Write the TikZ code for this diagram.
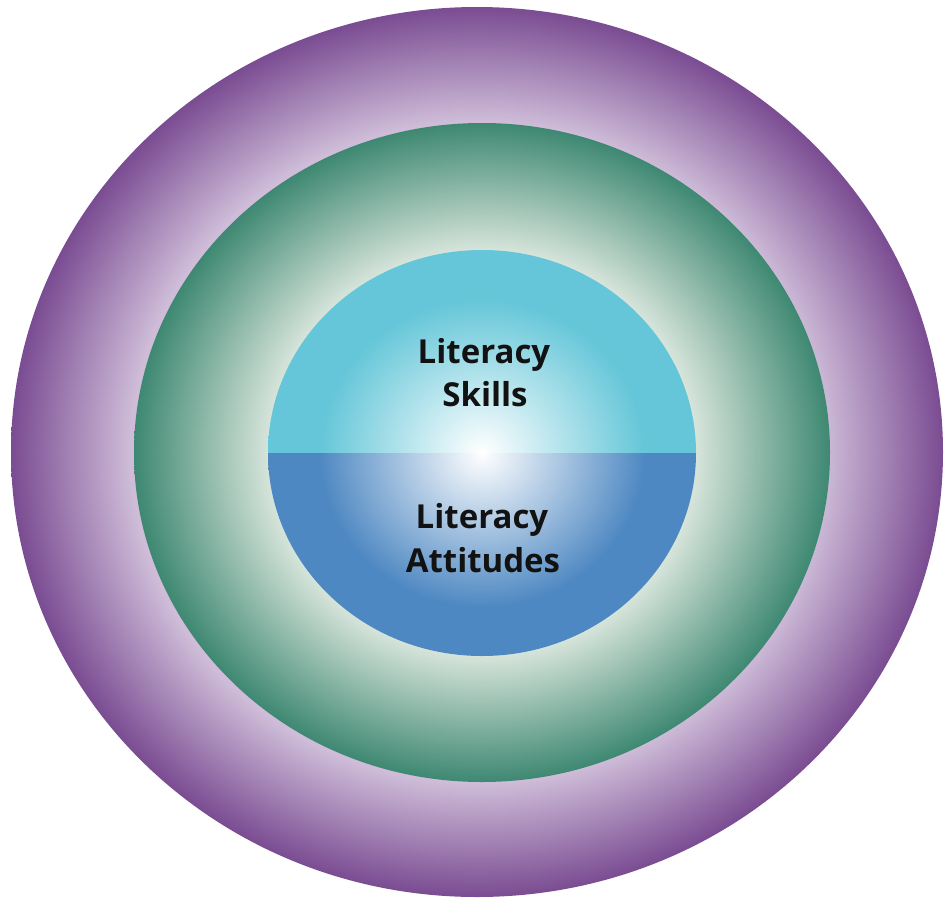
\documentclass[tikz,border=0pt]{standalone}
\usepackage{fontspec}
\newfontfamily\labfont{Open Sans}
\usetikzlibrary{shapes.geometric}
\definecolor{purpOut}{RGB}{122,76,146}
\definecolor{purpIn}{RGB}{206,188,216}
\definecolor{greenOut}{RGB}{62,136,114}
\definecolor{greenIn}{RGB}{214,228,218}
\definecolor{cyanOut}{RGB}{100,198,216}
\definecolor{blueOut}{RGB}{78,136,194}
\pgfdeclareradialshading{purplering}{\pgfpoint{0bp}{0bp}}{color(0bp)=(purpIn); color(18.6bp)=(purpIn); color(25bp)=(purpOut); color(50bp)=(purpOut)}
\pgfdeclareradialshading{greenring}{\pgfpoint{0bp}{0bp}}{color(0bp)=(greenIn); color(15.4bp)=(greenIn); color(25bp)=(greenOut); color(50bp)=(greenOut)}
\pgfdeclareradialshading{cyanball}{\pgfpoint{0bp}{0bp}}{color(0bp)=(white); color(19bp)=(cyanOut); color(25bp)=(cyanOut); color(50bp)=(cyanOut)}
\pgfdeclareradialshading{blueball}{\pgfpoint{0bp}{0bp}}{color(0bp)=(white); color(19bp)=(blueOut); color(25bp)=(blueOut); color(50bp)=(blueOut)}
\tikzset{
  ring/.style={ellipse, inner sep=0pt, shade},
  lab/.style={font=\labfont\bfseries\fontsize{33}{44}\selectfont, text=black!93, anchor=base, inner sep=0pt}
}
\begin{document}
\begin{tikzpicture}[x=1pt,y=-1pt]
\useasboundingbox (0,0) rectangle (945,897);
\node[ring, shading=purplering, minimum width=932pt, minimum height=890pt] (outer) at (477,452) {};
\node[ring, shading=greenring, minimum width=696pt, minimum height=659pt] (middle) at (482,452.5) {};
\begin{scope}
  \clip (260,240) rectangle (705,453);
  \shade[shading=cyanball] (482,453) ellipse [x radius=214, y radius=203];
\end{scope}
\begin{scope}
  \clip (260,453) rectangle (705,670);
  \shade[shading=blueball] (482,453) ellipse [x radius=214, y radius=203];
\end{scope}
\coordinate (core) at (482,453);
\node[lab] (l1) at (484,363) {Literacy};
\node[lab] (s1) at (485,406) {Skills};
\node[lab] (l2) at (482,528) {Literacy};
\node[lab] (a2) at (483,572) {Attitudes};
\end{tikzpicture}
\end{document}
